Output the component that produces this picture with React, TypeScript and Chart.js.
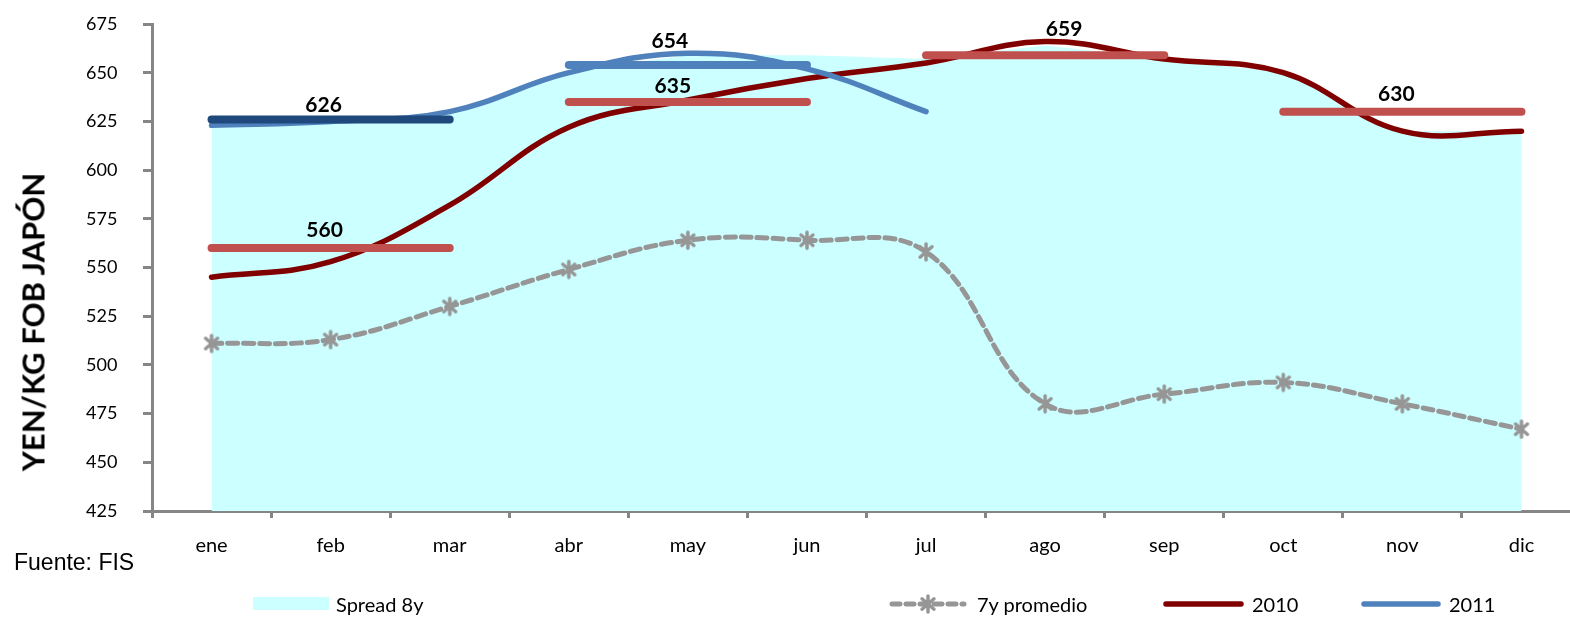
import React, { useEffect, useRef } from "react";
import { Chart, registerables } from "chart.js";

Chart.register(...registerables);

// ---------------- data ----------------
const months = ["ene", "feb", "mar", "abr", "may", "jun", "jul", "ago", "sep", "oct", "nov", "dic"];
const spread8y = [623, 625, 630, 651, 659, 659, 657, 664, 657, 650, 620, 620];
const prom7y = [511, 513, 530, 549, 564, 564, 558, 480, 485, 491, 480, 467];
const serie2010 = [545, 553, 582, 622, 636, 647, 655, 666, 657, 650, 620, 620];
const serie2011 = [623, 625, 630, 650, 660, 652, 630, null, null, null, null, null];
const quarterAvg2010 = [560, 635, 659, 630];
const quarterAvg2011 = [626, 654];
const yMin = 425;
const yMax = 675;
const yStep = 25;

// ---------------- styles ----------------
const C_SPREAD = "#CCFFFF";
const C_PROM = "#969696";
const C_2010 = "#800000";
const C_2011 = "#4F81BD";
const C_AVG2010 = "#C0504D";
const C_AVG2011 = ["#1F497D", "#4F81BD"];
const AXIS = "#868686";
const FONT = "Lato, 'Noto Sans', sans-serif";

// label nudges (px) for the quarter-average labels
const nudge2010 = [
  { dx: -6, gap: 11 },
  { dx: -15, gap: 9 },
  { dx: 19, gap: 19 },
  { dx: -6, gap: 11 },
];
const nudge2011 = [
  { dx: -7, gap: 7 },
  { dx: -18, gap: 17 },
];

function quarterSeries(q: number, v: number) {
  return months.map((_, i) => (Math.floor(i / 3) === q ? v : null));
}

function drawAsterisk(ctx: CanvasRenderingContext2D, cx: number, cy: number, r: number) {
  ctx.save();
  ctx.strokeStyle = C_PROM;
  ctx.lineWidth = 3.5;
  ctx.lineCap = "round";
  ctx.setLineDash([]);
  ctx.beginPath();
  ctx.moveTo(cx - r * 0.75, cy - r * 0.65);
  ctx.lineTo(cx + r * 0.75, cy + r * 0.65);
  ctx.moveTo(cx + r * 0.75, cy - r * 0.65);
  ctx.lineTo(cx - r * 0.75, cy + r * 0.65);
  ctx.moveTo(cx, cy - r);
  ctx.lineTo(cx, cy + r);
  ctx.stroke();
  ctx.restore();
}

function makeMarker() {
  const c = document.createElement("canvas");
  c.width = 22;
  c.height = 22;
  const ctx = c.getContext("2d");
  if (ctx) drawAsterisk(ctx, 11, 11, 8);
  return c;
}

export default function App() {
  const ref = useRef<HTMLCanvasElement>(null);

  useEffect(() => {
    if (!ref.current) return;

    const marker = makeMarker();
    const avgSets: any[] = [];
    const labelInfo: { ds: number; idx: number; dx: number; gap: number }[] = [];

    const base: any[] = [
      {
        label: "Spread 8y",
        data: spread8y,
        fill: "start",
        backgroundColor: C_SPREAD,
        borderWidth: 0,
        pointRadius: 0,
        tension: 0,
        order: 20,
      },
      {
        label: "7y promedio",
        data: prom7y,
        borderColor: C_PROM,
        backgroundColor: C_PROM,
        borderWidth: 5,
        borderDash: [10, 6],
        borderCapStyle: "round",
        pointStyle: marker,
        pointRadius: 8,
        tension: 0.4,
        fill: false,
        order: 15,
      },
      {
        label: "2010",
        data: serie2010,
        borderColor: C_2010,
        borderWidth: 5.5,
        borderCapStyle: "round",
        pointRadius: 0,
        tension: 0.4,
        fill: false,
        order: 14,
      },
      {
        label: "2011",
        data: serie2011,
        borderColor: C_2011,
        borderWidth: 5.5,
        borderCapStyle: "round",
        pointRadius: 0,
        tension: 0.4,
        fill: false,
        order: 13,
      },
    ];

    quarterAvg2010.forEach((v, q) => {
      avgSets.push({
        label: "avg2010_" + q,
        data: quarterSeries(q, v),
        borderColor: C_AVG2010,
        borderWidth: 8,
        borderCapStyle: "round",
        pointRadius: 0,
        tension: 0,
        fill: false,
        order: 5,
      });
      labelInfo.push({ ds: base.length + avgSets.length - 1, idx: q * 3 + 1, ...nudge2010[q] });
    });
    quarterAvg2011.forEach((v, q) => {
      avgSets.push({
        label: "avg2011_" + q,
        data: quarterSeries(q, v),
        borderColor: C_AVG2011[q],
        borderWidth: 8,
        borderCapStyle: "round",
        pointRadius: 0,
        tension: 0,
        fill: false,
        order: 4,
      });
      labelInfo.push({ ds: base.length + avgSets.length - 1, idx: q * 3 + 1, ...nudge2011[q] });
    });

    const labelPlugin = {
      id: "avgLabels",
      afterDatasetsDraw(chart: any) {
        const ctx = chart.ctx;
        ctx.save();
        ctx.font = `bold 21px ${FONT}`;
        ctx.fillStyle = "#000";
        ctx.textAlign = "center";
        ctx.textBaseline = "alphabetic";
        labelInfo.forEach((l) => {
          const meta = chart.getDatasetMeta(l.ds);
          const pt = meta.data[l.idx];
          const v = chart.data.datasets[l.ds].data[l.idx];
          if (pt && v != null) ctx.fillText(String(v), pt.x + l.dx, pt.y - l.gap);
        });
        ctx.restore();
      },
      afterDraw(chart: any) {
        const ctx = chart.ctx;
        const ly = 604;
        ctx.save();
        // Spread box
        ctx.fillStyle = C_SPREAD;
        ctx.fillRect(253, 597, 76, 13);
        // 7y promedio
        ctx.strokeStyle = C_PROM;
        ctx.lineWidth = 5;
        ctx.lineCap = "round";
        ctx.setLineDash([8, 6]);
        ctx.beginPath();
        ctx.moveTo(892, ly);
        ctx.lineTo(964, ly);
        ctx.stroke();
        ctx.setLineDash([]);
        drawAsterisk(ctx, 928, ly, 8);
        // 2010
        ctx.lineWidth = 5.5;
        ctx.lineCap = "round";
        ctx.strokeStyle = C_2010;
        ctx.beginPath();
        ctx.moveTo(1166, ly);
        ctx.lineTo(1241, ly);
        ctx.stroke();
        // 2011
        ctx.strokeStyle = C_2011;
        ctx.beginPath();
        ctx.moveTo(1364, ly);
        ctx.lineTo(1438, ly);
        ctx.stroke();
        ctx.restore();
      },
    };

    const chart = new Chart(ref.current, {
      type: "line",
      data: { labels: months, datasets: [...base, ...avgSets] },
      options: {
        animation: false,
        responsive: false,
        maintainAspectRatio: false,
        devicePixelRatio: 1,
        layout: { padding: { top: 24, left: 86, right: 0, bottom: 0 } },
        plugins: { legend: { display: false }, tooltip: { enabled: false } },
        elements: { line: { borderJoinStyle: "round" } },
        scales: {
          x: {
            type: "category",
            offset: true,
            grid: {
              offset: true,
              drawOnChartArea: false,
              drawTicks: true,
              tickLength: 7,
              tickWidth: 3,
              tickColor: AXIS,
            },
            border: { display: true, color: AXIS, width: 3 },
            ticks: {
              color: "#000",
              font: { family: FONT, size: 20 },
              padding: 16,
              maxRotation: 0,
            },
            afterFit(axis: any) {
              axis.height = 107;
            },
          },
          y: {
            min: yMin,
            max: yMax,
            grid: {
              drawOnChartArea: false,
              drawTicks: true,
              tickLength: 9,
              tickWidth: 3,
              tickColor: AXIS,
            },
            border: { display: true, color: AXIS, width: 3 },
            ticks: {
              stepSize: yStep,
              color: "#000",
              font: { family: FONT, size: 18 },
              padding: 0,
              crossAlign: "far",
            },
            afterFit(axis: any) {
              axis.width = 66;
            },
          },
        },
      },
      plugins: [labelPlugin],
    });

    return () => chart.destroy();
  }, []);

  const legendText: React.CSSProperties = {
    position: "absolute",
    top: 604,
    transform: "translateY(-50%)",
    fontFamily: FONT,
    fontSize: 20,
    color: "#000",
    whiteSpace: "nowrap",
    lineHeight: 1,
  };

  return (
    <div
      style={{
        position: "fixed",
        left: 0,
        top: 0,
        width: 1570,
        height: 618,
        overflow: "hidden",
        background: "#fff",
      }}
    >
      <canvas ref={ref} width={1594} height={618} style={{ display: "block", width: 1594, height: 618 }} />
      <div
        style={{
          position: "absolute",
          left: 33,
          top: 322,
          transform: "translate(-50%, -50%) rotate(-90deg)",
          fontFamily: FONT,
          fontWeight: 700,
          fontSize: 31,
          color: "#000",
          whiteSpace: "nowrap",
          lineHeight: 1,
        }}
      >
        YEN/KG FOB JAPÓN
      </div>
      <div
        style={{
          position: "absolute",
          left: 14,
          top: 562,
          transform: "translateY(-50%)",
          fontFamily: "'Liberation Sans', Arial, sans-serif",
          fontSize: 23,
          color: "#000",
          whiteSpace: "nowrap",
          lineHeight: 1,
        }}
      >
        Fuente: FIS
      </div>
      <div style={{ ...legendText, left: 336 }}>Spread 8y</div>
      <div style={{ ...legendText, left: 977 }}>7y promedio</div>
      <div style={{ ...legendText, left: 1252 }}>2010</div>
      <div style={{ ...legendText, left: 1449 }}>2011</div>
    </div>
  );
}
